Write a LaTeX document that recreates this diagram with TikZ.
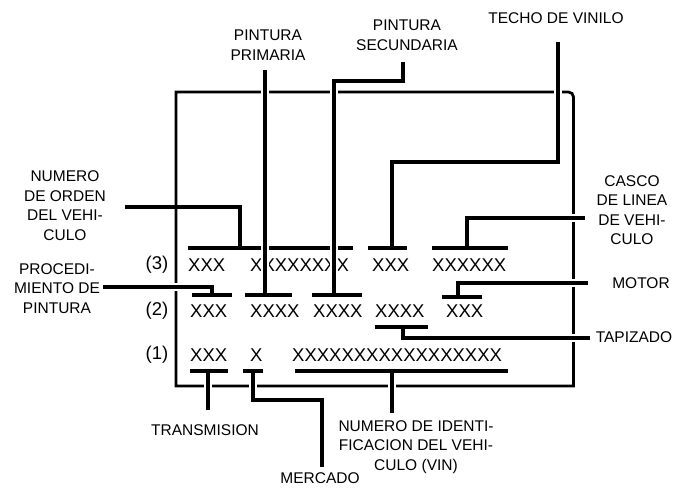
\documentclass[tikz,border=0pt]{standalone}
\usepackage{fontspec}
\setmainfont{Liberation Sans}
\begin{document}
\begin{tikzpicture}[x=1pt,y=-1pt,
  lbl/.style={font=\fontsize{15.5}{19.5}\selectfont, align=center, inner sep=0pt},
  xs/.style={font=\fontsize{18.5}{20}\selectfont, inner sep=0pt, anchor=west},
  frameline/.style={line width=2.8pt},
  bar/.style={line width=4pt},
  conn/.style={line width=3.4pt},
  connx/.style={line width=3.4pt, preaction={draw=white, line width=8.5pt, shorten >=4.5pt}}]
\useasboundingbox (0,0) rectangle (674,487);

% ---- labels
\node[lbl] (lPP) at (268,45) {PINTURA\\PRIMARIA};
\node[lbl] (lPS) at (407,35) {PINTURA\\SECUNDARIA};
\node[lbl] (lTV) at (556,18) {TECHO DE VINILO};
\node[lbl] (lNO) at (65,205.5) {NUMERO\\DE ORDEN\\DEL VEHI-\\CULO};
\node[lbl] (lPR) at (57,288.5) {PROCEDI-\\MIENTO DE\\PINTURA};
\node[lbl] (lCA) at (632,210) {CASCO\\DE LINEA\\DE VEHI-\\CULO};
\node[lbl] (lMO) at (641,283) {MOTOR};
\node[lbl] (lTA) at (634,337) {TAPIZADO};
\node[lbl] (lTR) at (205,430) {TRANSMISION};
\node[lbl] (lME) at (320,478) {MERCADO};
\node[lbl] (lVI) at (416,447) {NUMERO DE IDENTI-\\FICACION DEL VEHI-\\CULO (VIN)};

% ---- frame
\draw[frameline] (176,386) -- (176,92) -- (568.5,92) to[out=0,in=90] (573.5,97) -- (573.5,386) -- cycle;

% ---- row markers
\node[xs, anchor=center] (r3) at (157,265) {(3)};
\node[xs, anchor=center] (r2) at (157,311) {(2)};
\node[xs, anchor=center] (r1) at (157,355) {(1)};

% ---- row 3 text and bars (crossed by connectors)
\node[xs] (t3a) at (188,265) {XXX};
\node[xs] (t3b) at (250,265) {XXXXXXXX};
\node[xs] (t3c) at (372,265) {XXX};
\node[xs] (t3d) at (432,265) {XXXXXX};
\coordinate (b3aL) at (188,248); \coordinate (b3aR) at (353,248);
\coordinate (b3cL) at (368,248); \coordinate (b3cR) at (407,248);
\coordinate (b3dL) at (432,248); \coordinate (b3dR) at (508,248);
\draw[bar] (b3aL) -- (b3aR);

% ---- connector end points and bends
\coordinate (cPP) at (265,70);
\coordinate (cPS) at (403,62);
\coordinate (kPS) at (334,81);
\coordinate (cTV) at (558,42);
\coordinate (kTV) at (392,162);
\coordinate (cNO) at (125,207);
\coordinate (kNO) at (240,207);
\coordinate (cPR) at (103,287);
\coordinate (kPR) at (212,287);
\coordinate (cCA) at (585,218);
\coordinate (kCA) at (467,218);
\coordinate (cMO) at (588,283);
\coordinate (kMO) at (458,283);
\coordinate (cTA) at (590,338);
\coordinate (kTA) at (403,338);
\coordinate (cTR) at (208,410);
\coordinate (cME) at (322,467);
\coordinate (kME) at (253,400);
\coordinate (cVI) at (392,413);

% ---- other bars
\coordinate (b2aL) at (192,295); \coordinate (b2aR) at (232,295);
\coordinate (b2bL) at (245,295); \coordinate (b2bR) at (292,295);
\coordinate (b2cL) at (312,295); \coordinate (b2cR) at (362,295);
\coordinate (b2eL) at (442,297); \coordinate (b2eR) at (482,297);
\coordinate (b2dL) at (375,327); \coordinate (b2dR) at (428,327);
\coordinate (b1aL) at (190,371); \coordinate (b1aR) at (228,371);
\coordinate (b1bL) at (243,371); \coordinate (b1bR) at (263,371);
\coordinate (b1cL) at (295,371); \coordinate (b1cR) at (508,371);

% ---- connectors
\draw[conn] (cNO) -- (kNO) -- (kNO |- b3aL);
\draw[connx] (cPP) -- (cPP |- b2bL);
\draw[connx] (cPS) |- (kPS) -- (kPS |- b2cL);
\draw[connx] (cTV) |- (kTV) -- (kTV |- b3cL);
\draw[connx] (cCA) -- (kCA) -- (kCA |- b3dL);
\draw[connx] (cMO) -- (kMO) -- (kMO |- b2eL);
\draw[connx] (cTA) -- (kTA) -- (kTA |- b2dL);
\draw[connx] (cPR) -- (kPR) -- (kPR |- b2aL);
\draw[connx] (cTR) -- (cTR |- b1aL);
\draw[connx] (cME) |- (kME) -- (kME |- b1bL);
\draw[connx] (cVI) -- (cVI |- b1cL);

% ---- bars drawn over the connector ends
\draw[bar] (b3cL) -- (b3cR);
\draw[bar] (b3dL) -- (b3dR);
\draw[bar] (b2aL) -- (b2aR);
\draw[bar] (b2bL) -- (b2bR);
\draw[bar] (b2cL) -- (b2cR);
\draw[bar] (b2eL) -- (b2eR);
\draw[bar] (b2dL) -- (b2dR);
\draw[bar] (b1aL) -- (b1aR);
\draw[bar] (b1bL) -- (b1bR);
\draw[bar] (b1cL) -- (b1cR);

% ---- rows 2 and 1 text
\node[xs] (t2a) at (190,311) {XXX};
\node[xs] (t2b) at (250,311) {XXXX};
\node[xs] (t2c) at (313,311) {XXXX};
\node[xs] (t2d) at (375,311) {XXXX};
\node[xs] (t2e) at (446,311) {XXX};
\node[xs] (t1a) at (190,355) {XXX};
\node[xs] (t1b) at (250,355) {X};
\node[xs] (t1c) at (292,355) {XXXXXXXXXXXXXXXXX};
\end{tikzpicture}
\end{document}
